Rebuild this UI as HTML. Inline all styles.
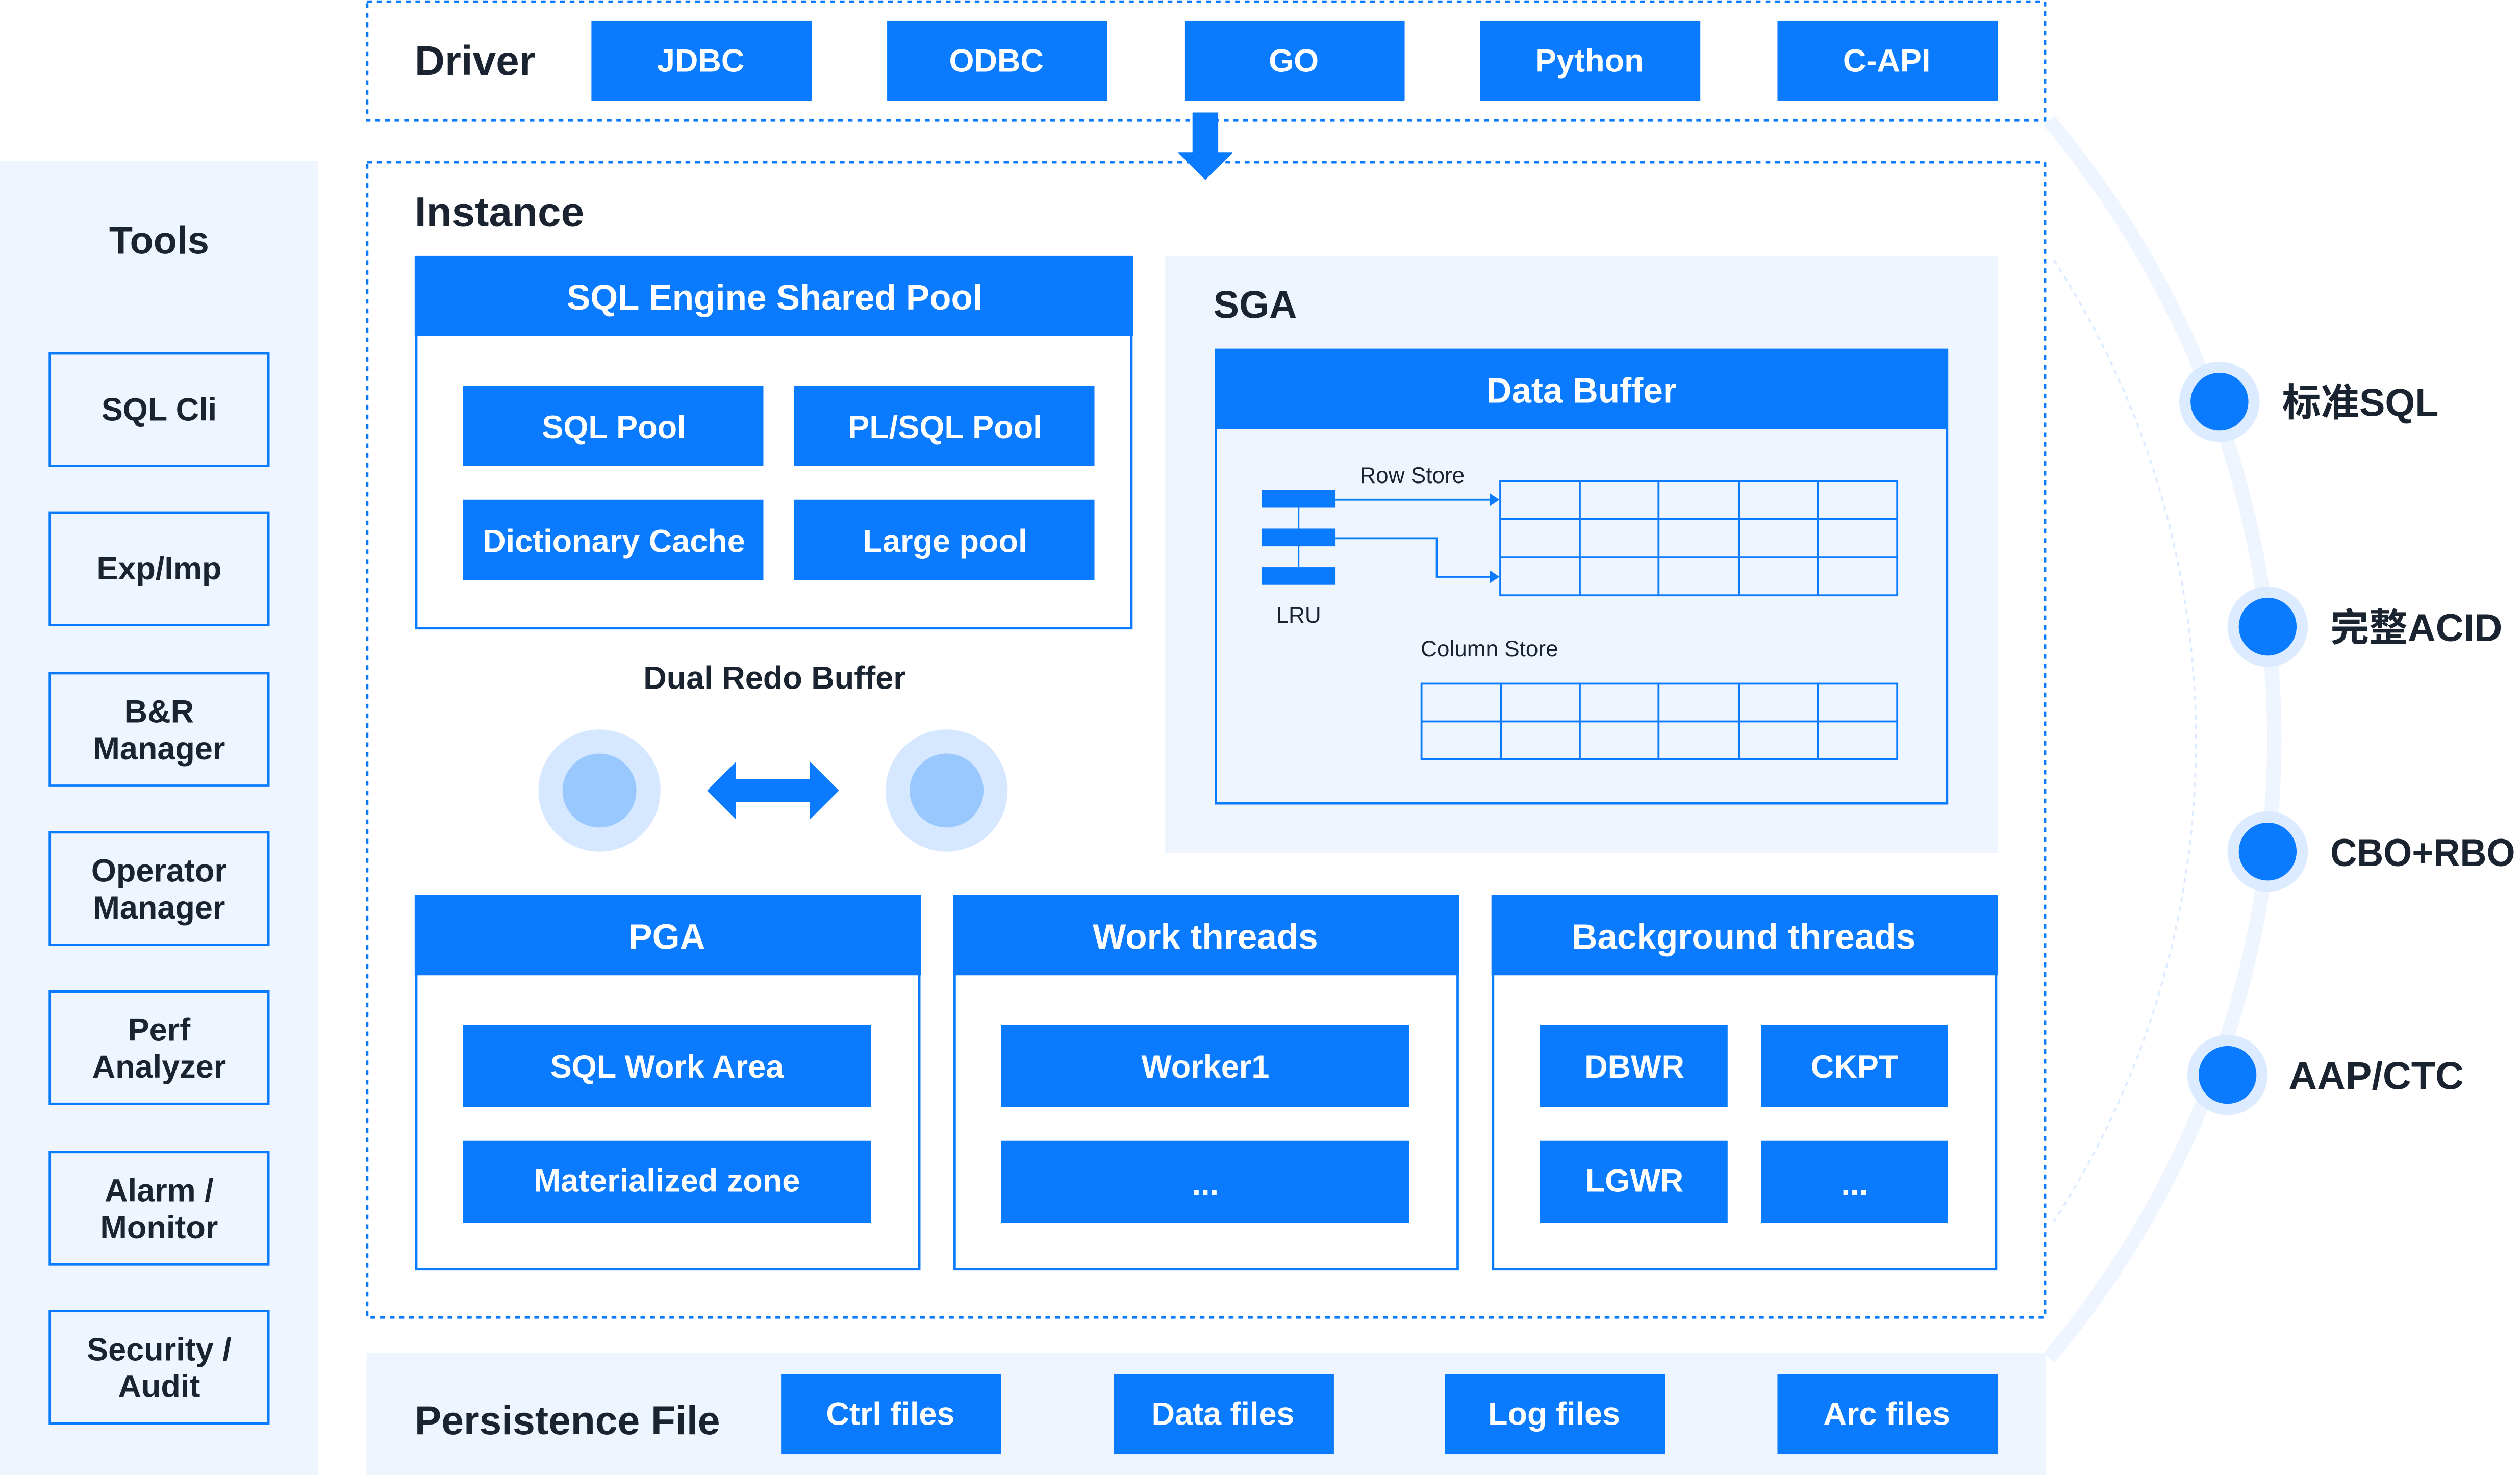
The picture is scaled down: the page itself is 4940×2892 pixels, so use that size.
<!DOCTYPE html>
<html><head><meta charset="utf-8"><style>
html,body{margin:0;padding:0;background:#fff;}
svg{display:block;}
text{font-family:"Liberation Sans","Noto Sans CJK SC",sans-serif;}
.w{fill:#fff;font-size:20px;font-weight:bold;text-anchor:middle;dominant-baseline:central;}
.h{fill:#fff;font-size:22px;font-weight:bold;text-anchor:middle;dominant-baseline:central;}
.d{fill:#1a2330;font-weight:bold;}
.t{fill:#1a2330;font-size:20px;font-weight:bold;text-anchor:middle;dominant-baseline:central;}
.s{fill:#1a2330;font-size:14px;}
</style></head><body>
<svg width="4940" height="2892" viewBox="0 0 1568 918" preserveAspectRatio="none" xmlns="http://www.w3.org/2000/svg">
<rect width="1568" height="918" fill="#fff"/>
<path d="M1275,75 A599,599 0 0 1 1275,845" fill="none" stroke="#EEF5FF" stroke-width="9"/>
<path d="M1278,162 A550,550 0 0 1 1278,760" fill="none" stroke="#DCEBFF" stroke-width="1.2" stroke-dasharray="3,3"/>
<rect x="0" y="100" width="198" height="818" fill="#EEF5FF"/>
<text x="99" y="150" class="t" style="font-size:24px">Tools</text>
<g fill="#EEF5FF" stroke="#0A7BFF" stroke-width="1.5">
<rect x="31" y="220" width="136" height="70"/><rect x="31" y="319" width="136" height="70"/>
<rect x="31" y="419" width="136" height="70"/><rect x="31" y="518" width="136" height="70"/>
<rect x="31" y="617" width="136" height="70"/><rect x="31" y="717" width="136" height="70"/>
<rect x="31" y="816" width="136" height="70"/></g>
<text x="99" y="255" class="t">SQL Cli</text>
<text x="99" y="354" class="t">Exp/Imp</text>
<text x="99" y="443" class="t">B&amp;R</text><text x="99" y="466" class="t">Manager</text>
<text x="99" y="542" class="t">Operator</text><text x="99" y="565" class="t">Manager</text>
<text x="99" y="641" class="t">Perf</text><text x="99" y="664" class="t">Analyzer</text>
<text x="99" y="741" class="t">Alarm /</text><text x="99" y="764" class="t">Monitor</text>
<text x="99" y="840" class="t">Security /</text><text x="99" y="863" class="t">Audit</text>
<rect x="228.5" y="1" width="1044" height="74" fill="none" stroke="#0A7BFF" stroke-width="1.5" stroke-dasharray="3,3"/>
<text x="258" y="38" class="d" style="font-size:26px" dominant-baseline="central">Driver</text>
<g fill="#0A7BFF"><rect x="368" y="13" width="137" height="50"/><rect x="552" y="13" width="137" height="50"/><rect x="737" y="13" width="137" height="50"/><rect x="921" y="13" width="137" height="50"/><rect x="1106" y="13" width="137" height="50"/></g>
<text x="436" y="38" class="w">JDBC</text><text x="620" y="38" class="w">ODBC</text><text x="805" y="38" class="w">GO</text><text x="989" y="38" class="w">Python</text><text x="1174" y="38" class="w">C-API</text>
<rect x="228.5" y="101" width="1044" height="719" fill="none" stroke="#0A7BFF" stroke-width="1.5" stroke-dasharray="3,3"/>
<path d="M742,70 H758 V95 H767 L750,112 L733,95 H742 Z" fill="#0A7BFF"/>
<text x="258" y="132" class="d" style="font-size:26px" dominant-baseline="central">Instance</text>
<rect x="259" y="160" width="445" height="231" fill="#fff" stroke="#0A7BFF" stroke-width="1.5"/>
<rect x="258" y="159" width="447" height="50" fill="#0A7BFF"/>
<text x="482" y="185" class="h">SQL Engine Shared Pool</text>
<g fill="#0A7BFF"><rect x="288" y="240" width="187" height="50"/><rect x="494" y="240" width="187" height="50"/><rect x="288" y="311" width="187" height="50"/><rect x="494" y="311" width="187" height="50"/></g>
<text x="382" y="266" class="w">SQL Pool</text><text x="588" y="266" class="w">PL/SQL Pool</text>
<text x="382" y="337" class="w">Dictionary Cache</text><text x="588" y="337" class="w">Large pool</text>
<text x="482" y="422" class="t">Dual Redo Buffer</text>
<circle cx="373" cy="492" r="38" fill="#D6E8FF"/><circle cx="373" cy="492" r="23" fill="#99C8FF"/>
<circle cx="589" cy="492" r="38" fill="#D6E8FF"/><circle cx="589" cy="492" r="23" fill="#99C8FF"/>
<path d="M440,492 L458,474 V485 H504 V474 L522,492 L504,510 V499 H458 V510 Z" fill="#0A7BFF"/>
<rect x="725" y="159" width="518" height="372" fill="#EEF5FF"/>
<text x="755" y="190" class="d" style="font-size:24px" dominant-baseline="central">SGA</text>
<rect x="756.5" y="218" width="455" height="282" fill="none" stroke="#0A7BFF" stroke-width="1.5"/>
<rect x="756" y="217" width="456" height="50" fill="#0A7BFF"/>
<text x="984" y="243" class="h">Data Buffer</text>
<g fill="#0A7BFF"><rect x="785" y="305" width="46" height="11"/><rect x="785" y="329" width="46" height="11"/><rect x="785" y="353" width="46" height="11"/></g>
<path d="M808,316 V353" stroke="#0A7BFF" stroke-width="1"/>
<g fill="none" stroke="#0A7BFF" stroke-width="1.2">
<path d="M831,311 H930"/><path d="M831,335 H894 V359 H930"/>
<rect x="933.5" y="299.5" width="247" height="71"/>
<path d="M983,299 V371 M1032,299 V371 M1082,299 V371 M1131,299 V371 M933,323 H1181 M933,347 H1181"/>
<rect x="884.5" y="425.5" width="296" height="47"/>
<path d="M934,425 V472 M983,425 V472 M1032,425 V472 M1082,425 V472 M1131,425 V472 M884,449 H1181"/>
</g>
<path d="M927,307 L933,311 L927,315 Z M927,355 L933,359 L927,363 Z" fill="#0A7BFF"/>
<text x="846" y="296" class="s" dominant-baseline="central">Row Store</text>
<text x="808" y="383" class="s" text-anchor="middle" dominant-baseline="central">LRU</text>
<text x="884" y="404" class="s" dominant-baseline="central">Column Store</text>
<g fill="#fff" stroke="#0A7BFF" stroke-width="1.5"><rect x="259" y="558" width="313" height="232"/><rect x="594" y="558" width="313" height="232"/><rect x="929" y="558" width="313" height="232"/></g>
<g fill="#0A7BFF"><rect x="258" y="557" width="315" height="50"/><rect x="593" y="557" width="315" height="50"/><rect x="928" y="557" width="315" height="50"/>
<rect x="288" y="638" width="254" height="51"/><rect x="288" y="710" width="254" height="51"/>
<rect x="623" y="638" width="254" height="51"/><rect x="623" y="710" width="254" height="51"/>
<rect x="958" y="638" width="117" height="51"/><rect x="1096" y="638" width="116" height="51"/>
<rect x="958" y="710" width="117" height="51"/><rect x="1096" y="710" width="116" height="51"/></g>
<text x="415" y="583" class="h">PGA</text><text x="750" y="583" class="h">Work threads</text><text x="1085" y="583" class="h">Background threads</text>
<text x="415" y="664" class="w">SQL Work Area</text><text x="415" y="735" class="w">Materialized zone</text>
<text x="750" y="664" class="w">Worker1</text><text x="750" y="737" class="w">...</text>
<text x="1017" y="664" class="w">DBWR</text><text x="1154" y="664" class="w">CKPT</text>
<text x="1017" y="735" class="w">LGWR</text><text x="1154" y="737" class="w">...</text>
<rect x="228" y="842" width="1045" height="76" fill="#EEF5FF"/>
<text x="258" y="884" class="d" style="font-size:25px" dominant-baseline="central" textLength="190" lengthAdjust="spacingAndGlyphs">Persistence File</text>
<g fill="#0A7BFF"><rect x="486" y="855" width="137" height="50"/><rect x="693" y="855" width="137" height="50"/><rect x="899" y="855" width="137" height="50"/><rect x="1106" y="855" width="137" height="50"/></g>
<text x="554" y="880" class="w">Ctrl files</text><text x="761" y="880" class="w">Data files</text><text x="967" y="880" class="w">Log files</text><text x="1174" y="880" class="w">Arc files</text>
<g fill="#D6E8FF" fill-opacity="0.85"><circle cx="1381" cy="250" r="25"/><circle cx="1411" cy="390" r="25"/><circle cx="1411" cy="530" r="25"/><circle cx="1386" cy="669" r="25"/></g>
<g fill="#0A7BFF"><circle cx="1381" cy="250" r="18"/><circle cx="1411" cy="390" r="18"/><circle cx="1411" cy="530" r="18"/><circle cx="1386" cy="669" r="18"/></g>
<text x="1420" y="251" class="d" style="font-size:24px" dominant-baseline="central">标准SQL</text>
<text x="1450" y="391" class="d" style="font-size:24px" dominant-baseline="central" textLength="107" lengthAdjust="spacingAndGlyphs">完整ACID</text>
<text x="1450" y="531" class="d" style="font-size:24px" dominant-baseline="central" textLength="115" lengthAdjust="spacingAndGlyphs">CBO+RBO</text>
<text x="1424" y="670" class="d" style="font-size:24px" dominant-baseline="central" textLength="109" lengthAdjust="spacingAndGlyphs">AAP/CTC</text>
</svg>
</body></html>
